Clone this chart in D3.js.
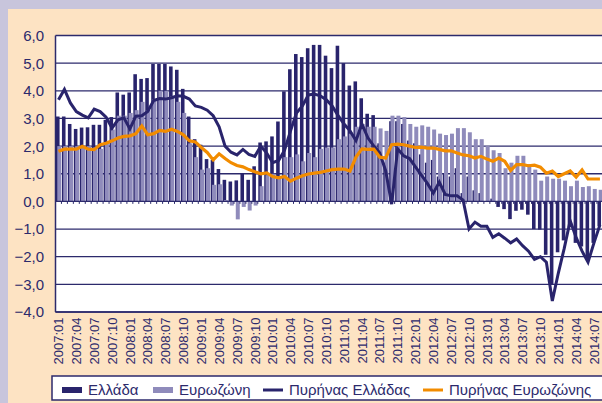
<!DOCTYPE html>
<html>
<head>
<meta charset="utf-8">
<script src="https://cdn.jsdelivr.net/npm/d3@7"></script>
<style>
  body { margin: 0; }
  svg { display: block; font-family: "Liberation Sans", Arial, sans-serif; }
</style>
</head>
<body>
<svg id="chart" width="602" height="403"></svg>
<script>
var months = [
  "2007:01","2007:02","2007:03","2007:04","2007:05","2007:06","2007:07","2007:08","2007:09","2007:10","2007:11","2007:12",
  "2008:01","2008:02","2008:03","2008:04","2008:05","2008:06","2008:07","2008:08","2008:09","2008:10","2008:11","2008:12",
  "2009:01","2009:02","2009:03","2009:04","2009:05","2009:06","2009:07","2009:08","2009:09","2009:10","2009:11","2009:12",
  "2010:01","2010:02","2010:03","2010:04","2010:05","2010:06","2010:07","2010:08","2010:09","2010:10","2010:11","2010:12",
  "2011:01","2011:02","2011:03","2011:04","2011:05","2011:06","2011:07","2011:08","2011:09","2011:10","2011:11","2011:12",
  "2012:01","2012:02","2012:03","2012:04","2012:05","2012:06","2012:07","2012:08","2012:09","2012:10","2012:11","2012:12",
  "2013:01","2013:02","2013:03","2013:04","2013:05","2013:06","2013:07","2013:08","2013:09","2013:10","2013:11","2013:12",
  "2014:01","2014:02","2014:03","2014:04","2014:05","2014:06","2014:07","2014:08"
];

// HICP, Greece (bars)
var greece = [
  3.07,3.07,2.8,2.62,2.67,2.68,2.77,2.77,2.95,3.05,3.94,3.86,
  3.94,4.6,4.43,4.46,4.97,4.97,4.97,4.88,4.76,4.07,3.07,2.25,
  2.05,1.53,1.5,1.17,0.78,0.72,0.76,1.02,0.78,1.27,2.13,2.17,
  2.35,2.89,3.98,4.78,5.33,5.22,5.54,5.66,5.66,5.27,4.82,5.63,
  5.0,4.19,4.34,3.73,3.17,3.12,2.1,1.4,2.9,2.9,2.8,2.2,
  2.1,1.7,1.4,1.5,0.9,1.0,0.9,1.2,0.3,0.9,0.4,0.3,
  0.0,0.1,-0.2,-0.28,-0.64,-0.34,-0.3,-0.48,-1.0,-1.02,-1.93,-3.0,
  -1.84,-1.41,-0.93,-1.5,-1.63,-2.11,-1.5,-0.9
];

// HICP, euro area (bars)
var eurozone = [
  2.0,2.0,2.0,2.0,2.0,2.0,1.95,1.9,2.1,2.6,3.1,3.1,
  3.2,3.3,3.6,3.3,3.7,4.0,4.0,3.8,3.6,3.2,2.1,1.6,
  1.15,1.2,0.6,0.62,0.05,-0.15,-0.65,-0.2,-0.33,-0.15,0.55,0.95,
  1.0,0.85,1.6,1.6,1.7,1.45,1.75,1.6,1.9,1.95,1.95,2.25,
  2.35,2.45,2.7,2.8,2.7,2.7,2.64,2.55,3.1,3.1,3.05,2.8,
  2.7,2.75,2.7,2.6,2.45,2.4,2.45,2.65,2.65,2.5,2.25,2.25,
  2.0,1.85,1.75,1.2,1.4,1.65,1.65,1.35,1.15,0.75,0.9,0.82,
  0.82,0.75,0.55,0.75,0.52,0.55,0.45,0.42
];

// core inflation, Greece (line)
var greeceCore = [
  3.68,4.05,3.56,3.25,3.12,3.02,3.34,3.25,3.05,2.65,2.95,3.02,
  2.62,3.08,3.1,3.25,3.65,3.72,3.7,3.75,3.82,3.8,3.7,3.45,
  3.4,3.3,3.1,2.7,2.0,1.78,1.68,1.88,1.7,1.63,2.0,1.75,
  1.4,1.48,1.85,2.55,3.2,3.45,3.85,3.88,3.82,3.68,3.45,3.1,
  2.8,2.55,2.2,2.8,2.3,2.0,1.75,1.1,-0.1,1.9,1.65,1.55,
  1.25,0.95,0.65,0.3,0.7,0.25,0.2,0.2,0.05,-1.0,-0.75,-0.9,
  -0.9,-1.3,-1.17,-1.33,-1.5,-1.36,-1.6,-1.8,-2.1,-2.0,-2.2,-3.6,
  -2.6,-1.7,-0.7,-1.3,-1.8,-2.2,-1.5,-0.85
];

// core inflation, euro area (line)
var euroCore = [
  1.81,1.89,1.89,1.89,1.99,1.89,1.87,2.05,2.1,2.19,2.29,2.35,
  2.37,2.45,2.73,2.41,2.45,2.57,2.53,2.61,2.53,2.41,2.19,2.15,
  1.95,1.77,1.5,1.72,1.55,1.4,1.3,1.25,1.15,1.07,1.0,1.03,
  0.9,0.85,0.9,0.73,0.84,0.93,0.99,1.02,1.05,1.1,1.15,1.17,
  1.17,1.1,1.6,1.9,1.88,1.89,1.6,1.57,2.05,2.07,2.05,2.0,
  1.95,1.96,1.93,1.93,1.88,1.83,1.83,1.75,1.68,1.65,1.57,1.63,
  1.53,1.45,1.57,1.45,1.12,1.33,1.33,1.29,1.31,1.24,1.02,1.1,
  0.9,1.0,1.1,0.88,1.14,0.81,0.81,0.81
];

var yTicks = [-4, -3, -2, -1, 0, 1, 2, 3, 4, 5, 6];
var legendNames = ["Ελλάδα", "Ευρωζώνη", "Πυρήνας Ελλάδας", "Πυρήνας Ευρωζώνης"];

var navy = "#29246c", lilac = "#8f8bbb", orange = "#f28c00", ink = "#2c2a6c";

var svg = d3.select("#chart");

// frame and panel
svg.append("rect").attr("width", 602).attr("height", 403).attr("fill", "#c8c5dc");
svg.append("rect").attr("x", 8).attr("y", 9).attr("width", 600).attr("height", 400).attr("fill", "#fde3c3");

var left = 55.5, slot = 5.95;
var x = d3.scaleBand().domain(months).range([left, left + slot * months.length]);
var y = d3.scaleLinear().domain([-4, 6]).range([312, 35.5]);
var fmt = d3.formatLocale({decimal: ",", thousands: ".", grouping: [3], currency: ["", "€"]}).format(".1f");

svg.append("rect")
  .attr("x", left).attr("y", y(6))
  .attr("width", x.range()[1] - left).attr("height", y(-4) - y(6))
  .attr("fill", "#fff");

// gridlines
svg.append("g")
  .selectAll("line")
  .data(yTicks.filter(function(d) { return d !== 0; }))
  .enter().append("line")
    .attr("x1", left).attr("x2", x.range()[1])
    .attr("y1", function(d) { return y(d); })
    .attr("y2", function(d) { return y(d); })
    .attr("stroke", ink).attr("stroke-width", 1.3);

// bars: Greece behind, euro area offset to the right and in front
var bw = x.bandwidth();
svg.append("g")
  .selectAll("rect")
  .data(greece)
  .enter().append("rect")
    .attr("x", function(d, i) { return x(months[i]) + 0.5; })
    .attr("width", bw * 0.6)
    .attr("y", function(d) { return y(Math.max(0, d)); })
    .attr("height", function(d) { return Math.abs(y(d) - y(0)); })
    .attr("fill", navy);
svg.append("g")
  .selectAll("rect")
  .data(eurozone)
  .enter().append("rect")
    .attr("x", function(d, i) { return x(months[i]) + bw * 0.3; })
    .attr("width", bw * 0.67)
    .attr("y", function(d) { return y(Math.max(0, d)); })
    .attr("height", function(d) { return Math.abs(y(d) - y(0)); })
    .attr("fill", lilac);

// x axis at zero with month ticks
var xAxis = svg.append("g")
  .attr("transform", "translate(0," + y(0) + ")");
xAxis.append("line")
  .attr("x1", left).attr("x2", x.range()[1])
  .attr("stroke", ink).attr("stroke-width", 1.3);
xAxis.selectAll(".tk")
  .data(months)
  .enter().append("line")
    .attr("class", "tk")
    .attr("x1", function(d) { return x(d); })
    .attr("x2", function(d) { return x(d); })
    .attr("y1", 0).attr("y2", 2.5)
    .attr("stroke", ink).attr("stroke-width", 1);

// lines
var line = d3.line()
  .x(function(d, i) { return x(months[i]) + bw / 2; })
  .y(function(d) { return y(d); });
svg.append("path").datum(greeceCore)
  .attr("d", line).attr("fill", "none")
  .attr("stroke", navy).attr("stroke-width", 3).attr("stroke-linejoin", "miter");
svg.append("path").datum(euroCore)
  .attr("d", line).attr("fill", "none")
  .attr("stroke", orange).attr("stroke-width", 3.2);

// left axis and bottom frame
svg.append("line")
  .attr("x1", left).attr("x2", left)
  .attr("y1", y(6)).attr("y2", y(-4))
  .attr("stroke", ink).attr("stroke-width", 1.5);
svg.append("line")
  .attr("x1", left).attr("x2", x.range()[1])
  .attr("y1", y(-4)).attr("y2", y(-4))
  .attr("stroke", ink).attr("stroke-width", 1.5);

// y labels
svg.append("g")
  .selectAll("text")
  .data(yTicks)
  .enter().append("text")
    .attr("x", 44).attr("y", function(d) { return y(d); })
    .attr("dy", "0.36em")
    .attr("text-anchor", "end")
    .attr("font-size", 15)
    .attr("fill", ink)
    .text(function(d) { return fmt(d); });

// x labels every quarter
svg.append("g")
  .selectAll("text")
  .data(months.filter(function(d, i) { return i % 3 === 0; }))
  .enter().append("text")
    .attr("transform", function(d) { return "translate(" + (x(d) + bw / 2) + ",317.5) rotate(-90)"; })
    .attr("dy", "0.36em")
    .attr("text-anchor", "end")
    .attr("font-size", 13)
    .attr("fill", ink)
    .text(function(d) { return d; });

// legend
var lg = svg.append("g");
lg.append("rect")
  .attr("x", 52).attr("y", 376).attr("width", 560).attr("height", 24)
  .attr("fill", "#fff").attr("stroke", ink).attr("stroke-width", 1.5);
var items = [
  {name: legendNames[0], x: 62, kind: "rect", color: navy},
  {name: legendNames[1], x: 153, kind: "rect", color: lilac},
  {name: legendNames[2], x: 263, kind: "line", color: navy},
  {name: legendNames[3], x: 423, kind: "line", color: orange}
];
items.forEach(function(it) {
  if (it.kind === "rect") {
    lg.append("rect").attr("x", it.x).attr("y", 387).attr("width", 20).attr("height", 6).attr("fill", it.color);
  } else {
    lg.append("line").attr("x1", it.x).attr("x2", it.x + 20).attr("y1", 390).attr("y2", 390)
      .attr("stroke", it.color).attr("stroke-width", 3);
  }
  lg.append("text")
    .attr("x", it.x + 26).attr("y", 390).attr("dy", "0.36em")
    .attr("font-size", 15).attr("fill", ink)
    .text(it.name);
});
</script>
</body>
</html>
